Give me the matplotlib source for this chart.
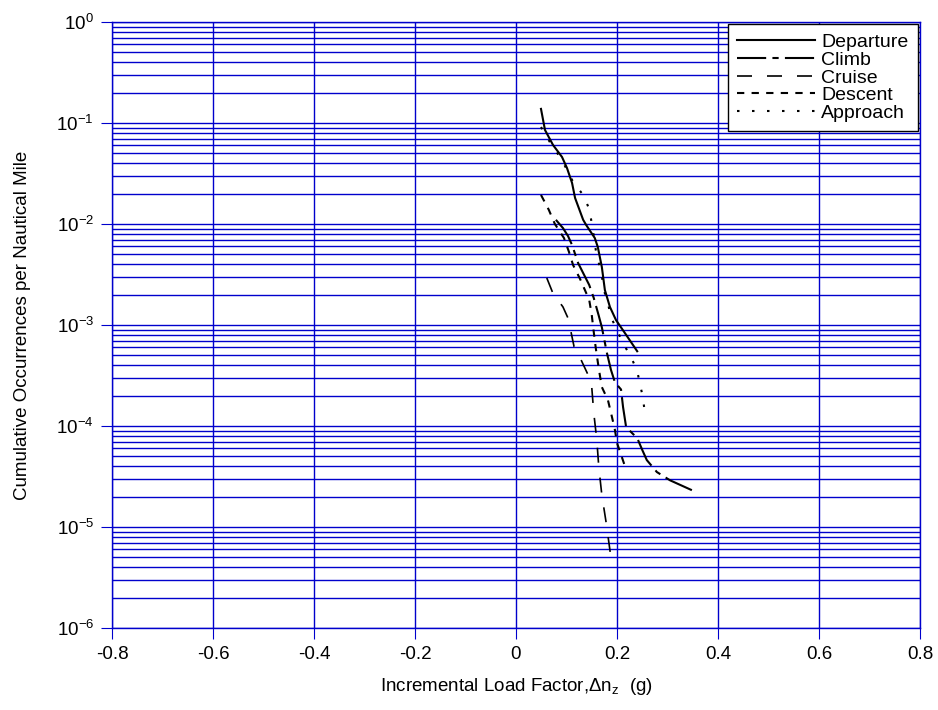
import matplotlib
matplotlib.use("Agg")
import matplotlib.pyplot as plt
from matplotlib.ticker import LogLocator, FixedLocator, NullFormatter

plt.rcParams['font.family'] = ['Liberation Sans', 'DejaVu Sans']
plt.rcParams['mathtext.fontset'] = 'custom'
plt.rcParams['mathtext.rm'] = 'Liberation Sans'
plt.rcParams['mathtext.it'] = 'Liberation Sans'

dep_x = [0.0495, 0.0574, 0.0733, 0.0911, 0.101, 0.111, 0.117, 0.133, 0.139, 0.156, 0.162, 0.170, 0.176, 0.186, 0.198, 0.218, 0.240]
dep_y = [0.138, 0.0853, 0.0606, 0.0461, 0.0358, 0.0255, 0.0181, 0.0110, 0.00977, 0.00727, 0.00592, 0.00375, 0.00222, 0.00151, 0.00112, 0.00080, 0.00055]

clb_x = [0.079, 0.093, 0.103, 0.111, 0.123, 0.133, 0.145, 0.154, 0.164, 0.170, 0.180, 0.188, 0.196, 0.208, 0.212, 0.218, 0.230, 0.240, 0.250, 0.259, 0.279, 0.305, 0.358]
clb_y = [0.0110, 0.00912, 0.0076, 0.0062, 0.00411, 0.00327, 0.00249, 0.00185, 0.00123, 0.00095, 0.00053, 0.00036, 0.00027, 0.00023, 0.000154, 9.8e-5, 8.5e-5, 7.6e-5, 5.8e-5, 4.6e-5, 3.5e-5, 2.9e-5, 2.2e-5]

cru_x = [0.061, 0.073, 0.093, 0.103, 0.109, 0.115, 0.129, 0.141, 0.150, 0.154, 0.160, 0.164, 0.170, 0.178, 0.188]
cru_y = [0.00292, 0.00207, 0.00151, 0.00117, 0.00085, 0.00061, 0.00045, 0.000335, 0.000243, 0.000135, 7.3e-5, 3.9e-5, 2.07e-5, 1.15e-5, 5.0e-6]

des_x = [0.0495, 0.065, 0.077, 0.095, 0.105, 0.113, 0.127, 0.145, 0.150, 0.154, 0.158, 0.162, 0.166, 0.170, 0.182, 0.190, 0.196, 0.200, 0.208, 0.218]
des_y = [0.0194, 0.0138, 0.0100, 0.00727, 0.00528, 0.00393, 0.00285, 0.00177, 0.00126, 0.00085, 0.00059, 0.00043, 0.00032, 0.000243, 0.000181, 0.000123, 9.1e-5, 6.8e-5, 5.2e-5, 3.7e-5]

app_x = [0.0495, 0.067, 0.091, 0.113, 0.133, 0.145, 0.150, 0.154, 0.158, 0.164, 0.170, 0.174, 0.182, 0.188, 0.200, 0.212, 0.228, 0.240, 0.246, 0.251, 0.255]
app_y = [0.0912, 0.0648, 0.0430, 0.0261, 0.0194, 0.0141, 0.0102, 0.0076, 0.00553, 0.00411, 0.00306, 0.00222, 0.00165, 0.00120, 0.00089, 0.00066, 0.00048, 0.00035, 0.000255, 0.000194, 0.000138]

x_ticks = [-0.8, -0.6, -0.4, -0.2, 0, 0.2, 0.4, 0.6, 0.8]
x_ticklabels = ['-0.8', '-0.6', '-0.4', '-0.2', '0', '0.2', '0.4', '0.6', '0.8']

fig = plt.figure(figsize=(9.38, 7.10), dpi=100)
ax = fig.add_axes([0.1194, 0.1155, 0.8614, 0.8535])
ax.set_yscale('log')
ax.set_xlim(-0.8, 0.8)
ax.set_ylim(1e-6, 1e0)

blue = '#0000cc'
ax.xaxis.set_major_locator(FixedLocator(x_ticks))
ax.set_xticklabels(x_ticklabels)
ax.yaxis.set_major_locator(LogLocator(base=10, numticks=10))
ax.yaxis.set_minor_locator(LogLocator(base=10, subs=range(2, 10), numticks=10))
ax.yaxis.set_minor_formatter(NullFormatter())
ax.xaxis.get_offset_text().set_visible(False)
ax.yaxis.get_offset_text().set_visible(False)
ax.grid(True, which='major', axis='both', color=blue, lw=1.0)
ax.grid(True, which='minor', axis='y', color=blue, lw=1.0)
ax.set_axisbelow(True)
for s in ax.spines.values():
    s.set_color(blue)
    s.set_linewidth(1.0)
ax.tick_params(which='major', direction='out', length=8, color=blue, labelsize=13.5, pad=5)
ax.tick_params(which='minor', length=0)

ax.plot(dep_x, dep_y, color='black', lw=1.5, ls='-', label='Departure')
ax.plot(clb_x, clb_y, color='black', lw=1.5, dashes=(14, 3, 3, 3), label='Climb')
ax.plot(cru_x, cru_y, color='black', lw=1.2, dashes=(9, 9), label='Cruise')
ax.plot(des_x, des_y, color='black', lw=1.5, dashes=(3.5, 3.5), label='Descent')
ax.plot(app_x, app_y, color='black', lw=1.5, dashes=(1.2, 6), label='Approach')

leg = ax.legend(loc='upper right', fontsize=14, frameon=True, fancybox=False,
                edgecolor='black', framealpha=1, handlelength=4.0, handletextpad=0.3,
                labelspacing=0.0, borderpad=0.5, borderaxespad=0.1)
leg.get_frame().set_linewidth(1.0)

ax.set_xlabel(r'Incremental Load Factor,$\Delta$n$_z$  (g)', fontsize=13.5, labelpad=9)
ax.set_ylabel('Cumulative Occurrences per Nautical Mile', fontsize=13.5, labelpad=18)

fig.savefig('out.png', dpi=100)
